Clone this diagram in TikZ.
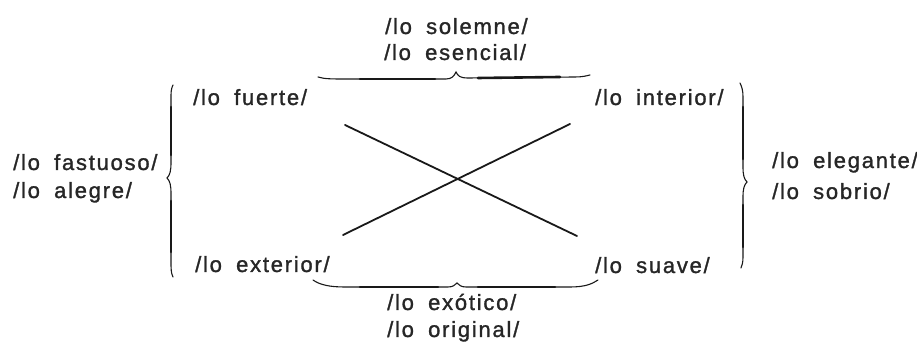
\documentclass[tikz,border=0pt]{standalone}
\usepackage{fontspec}
\setmainfont{Liberation Sans}[LetterSpace=8,WordSpace=1.8,FakeBold=1.3]
\begin{document}
\begin{tikzpicture}[x=1pt,y=1pt,
  lbl/.style={anchor=base west, inner sep=0pt, font=\fontsize{22}{26}\selectfont, text=black!85},
  crossline/.style={line width=1.8pt, line cap=round, black!90},
  bracethin/.style={line width=1.1pt, line cap=round, black!90},
  bracethick/.style={line width=2.6pt, line cap=round, black!90}]
\useasboundingbox[fill=white] (0,0) rectangle (917,347);
% labels
\node[lbl] (solemne)  at (385,313) {/lo solemne/};
\node[lbl] (esencial) at (384,287) {/lo esencial/};
\node[lbl] (fuerte)   at (193,242) {/lo fuerte/};
\node[lbl] (interior) at (595,242) {/lo interior/};
\node[lbl] (fastuoso) at (13,177)  {/lo fastuoso/};
\node[lbl] (alegre)   at (13,149)  {/lo alegre/};
\node[lbl] (elegante) at (772,179) {/lo elegante/};
\node[lbl] (sobrio)   at (772,148) {/lo sobrio/};
\node[lbl] (exterior) at (195,75)  {/lo exterior/};
\node[lbl] (suave)    at (595,74)  {/lo suave/};
\node[lbl] (exotico)  at (387,37)  {/lo exótico/};
\node[lbl] (original) at (387,10)  {/lo original/};
% cross
\coordinate (a1) at (345,222);
\coordinate (a2) at (577,111);
\coordinate (b1) at (343,112);
\coordinate (b2) at (570,223);
\draw[crossline] (a1) -- (a2);
\draw[crossline] (b1) -- (b2);
% top brace (tip up)
\draw[bracethin] (318,270) .. controls (324,268) and (332,268) .. (345,268) -- (446,268)
  .. controls (452,268) and (454,271) .. (456,275) .. controls (458,271) and (460,269) .. (468,269)
  -- (575,270) .. controls (582,270) and (586,271) .. (590,272);
\draw[bracethick] (360,268) -- (435,268);
\draw[bracethick] (478,269) -- (560,270);
% bottom brace
\draw[bracethin] (313,67) .. controls (320,62) and (330,60) .. (345,60) -- (448,60)
  .. controls (453,60) and (455,62) .. (457,64) .. controls (459,62) and (461,60) .. (466,60)
  -- (570,60) .. controls (585,60) and (592,63) .. (598,67);
\draw[bracethick] (360,60) -- (438,60);
\draw[bracethick] (478,60) -- (555,60);
% left brace (tip left)
\draw[bracethin] (173,262) .. controls (171,258) and (171,255) .. (171,248) -- (171,185)
  .. controls (171,176) and (170,172) .. (167,169) .. controls (170,166) and (171,162) .. (171,153)
  -- (171,86) .. controls (171,78) and (171,74) .. (173,70);
\draw[bracethick] (171,240) -- (171,192);
\draw[bracethick] (171,146) -- (171,95);
% right brace (tip right)
\draw[bracethin] (740,264) .. controls (742,260) and (743,256) .. (743,250) -- (743,180)
  .. controls (743,172) and (744,168) .. (747,165) .. controls (744,162) and (743,158) .. (743,150)
  -- (743,90) .. controls (743,84) and (742,82) .. (741,79);
\draw[bracethick] (743,240) -- (743,188);
\draw[bracethick] (743,142) -- (743,100);
\end{tikzpicture}
\end{document}
